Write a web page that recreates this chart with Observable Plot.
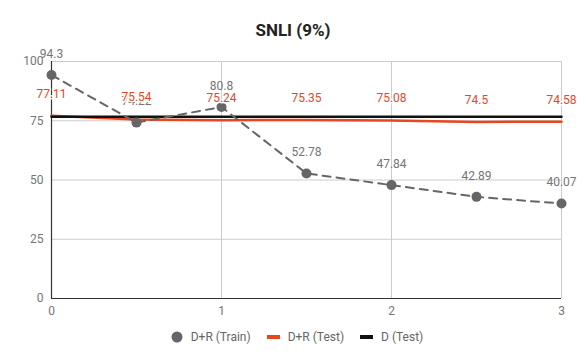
<!DOCTYPE html>
<html><head><meta charset="utf-8">
<script src="https://cdn.jsdelivr.net/npm/d3@7"></script>
<script src="https://cdn.jsdelivr.net/npm/@observablehq/plot@0.6"></script>
<style>
body{margin:0;background:#fff;font-family:Roboto,sans-serif;width:586px;}
#title{height:45px;box-sizing:border-box;padding-top:20px;line-height:20px;text-align:center;font-weight:bold;font-size:17px;color:#222;}
#legend{display:flex;justify-content:center;align-items:center;gap:16px;font-size:12px;color:#666;height:34px;margin-left:8px;}
#legend span{display:flex;align-items:center;gap:8px;}
</style></head>
<body>
<div id="title">SNLI (9%)</div>
<div id="chart"></div>
<div id="legend"></div>
<script>
const xs = [0, 0.5, 1, 1.5, 2, 2.5, 3];
const trainVals = [94.3, 74.22, 80.8, 52.78, 47.84, 42.89, 40.07];
const drTestVals = [77.11, 75.54, 75.24, 75.35, 75.08, 74.5, 74.58];
const dTestVals = [76.7, 76.7, 76.7, 76.7, 76.7, 76.7, 76.7];
const yTicks = [0, 25, 50, 75, 100];
const xTicks = [0, 1, 2, 3];
const seriesNames = ["D+R (Train)", "D+R (Test)", "D (Test)"];
const colors = {"D+R (Train)": "#666666", "D+R (Test)": "#e8461e", "D (Test)": "#111111"};

const train = xs.map((x, i) => ({x, y: trainVals[i]}));
const drTest = xs.map((x, i) => ({x, y: drTestVals[i]}));
const dTest = xs.map((x, i) => ({x, y: dTestVals[i]}));

const chart = Plot.plot({
  width: 586, height: 275,
  marginLeft: 51, marginRight: 25, marginTop: 16, marginBottom: 22,
  style: {fontFamily: "Roboto, sans-serif", fontSize: "12px", color: "#757575", background: "#fff"},
  x: {domain: [0, 3], label: null},
  y: {domain: [0, 100], label: null},
  marks: [
    Plot.gridX(xTicks, {stroke: "#cccccc", strokeOpacity: 1}),
    Plot.gridY(yTicks, {stroke: "#cccccc", strokeOpacity: 1}),
    Plot.ruleX([0], {stroke: "#333", strokeWidth: 1.2}),
    Plot.ruleY([0], {stroke: "#333", strokeWidth: 1.2}),
    Plot.axisX({ticks: xTicks, tickSize: 0, tickPadding: 8, tickFormat: d => String(d), fill: "#757575", label: null}),
    Plot.axisY({ticks: yTicks, tickSize: 0, tickPadding: 8, tickFormat: d => String(d), fill: "#757575", label: null}),
    Plot.line(drTest, {x: "x", y: "y", stroke: colors["D+R (Test)"], strokeWidth: 2.5}),
    Plot.line(dTest, {x: "x", y: "y", stroke: colors["D (Test)"], strokeWidth: 2.5}),
    Plot.line(train, {x: "x", y: "y", stroke: colors["D+R (Train)"], strokeWidth: 2, strokeDasharray: "8,6"}),
    Plot.dot(train, {x: "x", y: "y", r: 5, fill: colors["D+R (Train)"], stroke: "none"}),
    Plot.text(train, {x: "x", y: "y", text: d => String(d.y), dy: -21, fill: "#757575", fontSize: 12}),
    Plot.text(drTest, {x: "x", y: "y", text: d => String(d.y), dy: -22, fill: colors["D+R (Test)"], fontSize: 12, stroke: "white", strokeWidth: 3})
  ]
});
document.getElementById("chart").appendChild(chart);

const legend = document.getElementById("legend");
seriesNames.forEach(name => {
  const s = document.createElement("span");
  const icon = name === "D+R (Train)"
    ? `<svg width="12" height="12"><circle cx="6" cy="6" r="5.5" fill="${colors[name]}"/></svg>`
    : `<svg width="13" height="12"><rect x="0" y="4" width="13" height="4" fill="${colors[name]}"/></svg>`;
  s.innerHTML = icon + `<span>${name}</span>`;
  legend.appendChild(s);
});
</script>
</body></html>
